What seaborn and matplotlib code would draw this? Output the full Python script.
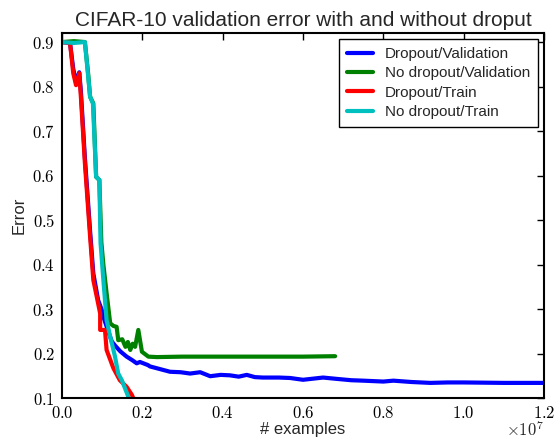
import numpy as np
import pandas as pd
import matplotlib
matplotlib.use("Agg")
import matplotlib.pyplot as plt
from matplotlib.ticker import FuncFormatter
import seaborn as sns

# x values are in units of 1e7 examples
drop_val_x = [0.0, 0.020, 0.028, 0.035, 0.043, 0.047, 0.057, 0.070, 0.078, 0.090, 0.099,
              0.104, 0.115, 0.124, 0.132, 0.145, 0.161, 0.175, 0.186, 0.194, 0.214, 0.219,
              0.244, 0.269, 0.295, 0.319, 0.344, 0.369, 0.395, 0.418, 0.440, 0.460, 0.480,
              0.500, 0.540, 0.568, 0.600, 0.650, 0.684, 0.720, 0.750, 0.800, 0.825, 0.870,
              0.917, 0.960, 1.000, 1.100, 1.200]
drop_val_y = [0.900, 0.898, 0.840, 0.810, 0.832, 0.790, 0.640, 0.475, 0.380, 0.320, 0.298,
              0.280, 0.250, 0.227, 0.218, 0.205, 0.193, 0.185, 0.178, 0.181, 0.174, 0.171,
              0.165, 0.159, 0.158, 0.155, 0.158, 0.149, 0.152, 0.151, 0.148, 0.152, 0.147,
              0.146, 0.146, 0.145, 0.141, 0.146, 0.143, 0.140, 0.139, 0.137, 0.139, 0.136,
              0.134, 0.135, 0.135, 0.134, 0.134]

nodrop_val_x = [0.0, 0.030, 0.057, 0.065, 0.070, 0.078, 0.085, 0.093, 0.098, 0.103,
                0.111, 0.120, 0.128, 0.136, 0.140, 0.150, 0.158, 0.164, 0.170, 0.176,
                0.182, 0.190, 0.199, 0.215, 0.236, 0.300, 0.400, 0.500, 0.600, 0.680]
nodrop_val_y = [0.900, 0.902, 0.900, 0.830, 0.777, 0.762, 0.597, 0.590, 0.450, 0.400,
                0.336, 0.268, 0.262, 0.260, 0.230, 0.232, 0.215, 0.226, 0.208, 0.222,
                0.215, 0.253, 0.204, 0.193, 0.192, 0.193, 0.193, 0.193, 0.193, 0.194]

drop_train_x = [0.0, 0.020, 0.028, 0.035, 0.043, 0.047, 0.057, 0.070, 0.078, 0.086,
                0.095, 0.095, 0.107, 0.111, 0.128, 0.144, 0.161, 0.174, 0.182]
drop_train_y = [0.900, 0.898, 0.830, 0.803, 0.830, 0.777, 0.628, 0.462, 0.365, 0.330,
                0.290, 0.253, 0.253, 0.208, 0.167, 0.140, 0.125, 0.107, 0.090]

nodrop_train_x = [0.0, 0.030, 0.057, 0.070, 0.077, 0.085, 0.093, 0.096, 0.103, 0.111,
                  0.120, 0.132, 0.140, 0.149, 0.165, 0.170]
nodrop_train_y = [0.900, 0.898, 0.900, 0.777, 0.762, 0.597, 0.590, 0.448, 0.365, 0.275,
                  0.238, 0.193, 0.155, 0.140, 0.103, 0.090]

series = [
    ("Dropout/Validation", drop_val_x, drop_val_y, "#0000ff"),
    ("No dropout/Validation", nodrop_val_x, nodrop_val_y, "#008000"),
    ("Dropout/Train", drop_train_x, drop_train_y, "#ff0000"),
    ("No dropout/Train", nodrop_train_x, nodrop_train_y, "#00bfbf"),
]

sns.set_theme(style="white")
plt.rcParams["font.family"] = ["Liberation Sans", "DejaVu Sans"]
plt.rcParams["mathtext.fontset"] = "cm"
plt.rcParams["xtick.direction"] = "in"
plt.rcParams["ytick.direction"] = "in"

fig = plt.figure(figsize=(5.55, 4.42), dpi=100)
ax = fig.add_axes([0.1117, 0.0995, 0.8685, 0.8255])

for label, xs, ys, color in series:
    df = pd.DataFrame({"x": xs, "y": ys})
    sns.lineplot(data=df, x="x", y="y", ax=ax, color=color, linewidth=3,
                 label=label, estimator=None, sort=False)

ax.set_xlim(0, 1.2)
ax.set_ylim(0.1, 0.92)
ax.set_xticks(np.arange(0, 1.21, 0.2))
ax.set_yticks(np.arange(0.1, 0.91, 0.1))
ax.xaxis.set_major_formatter(FuncFormatter(lambda v, p: f"${v:.1f}$"))
ax.yaxis.set_major_formatter(FuncFormatter(lambda v, p: f"${v:.1f}$"))
ax.tick_params(axis="both", which="major", direction="in", length=5, width=1,
               top=True, right=True, labelsize=12, colors="black", pad=5)
for sp in ax.spines.values():
    sp.set_color("black")
    sp.set_linewidth(1.5)

ax.text(1.0, -0.06, r"$\times10^{7}$", transform=ax.transAxes, ha="right",
        va="top", fontsize=12)

ax.set_xlabel("# examples", fontsize=12, labelpad=1)
ax.set_ylabel("Error", fontsize=12, labelpad=4)
ax.set_title("CIFAR-10 validation error with and without droput", fontsize=15, pad=5)

leg = ax.legend(loc="upper right", fontsize=11, fancybox=False, framealpha=1,
                edgecolor="black", handlelength=1.7, borderaxespad=0.4,
                labelspacing=0.35, borderpad=0.5)
leg.get_frame().set_linewidth(1)

fig.savefig("out.png", dpi=100)
